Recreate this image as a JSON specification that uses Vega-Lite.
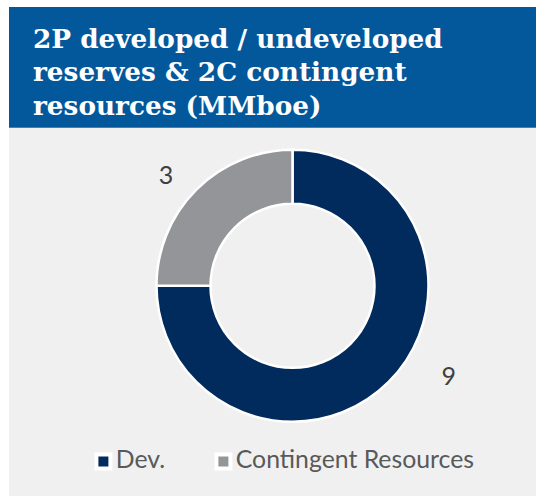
{
  "$schema": "https://vega.github.io/schema/vega-lite/v6.json",
  "background": "white",
  "padding": {"left": 9, "top": 7, "right": 0, "bottom": 0},
  "spacing": 0,
  "config": {"view": {"stroke": null}},
  "vconcat": [
    {
      "width": 527,
      "height": 120.7,
      "view": {"fill": "#03589C", "stroke": null},
      "title": {
        "text": ["2P developed / undeveloped", "reserves & 2C contingent", "resources (MMboe)"],
        "orient": "top",
        "anchor": "start",
        "frame": "group",
        "baseline": "top",
        "offset": -113,
        "dx": 24,
        "font": "DejaVu Serif",
        "fontSize": 26.3,
        "fontWeight": "bold",
        "color": "#ffffff",
        "lineHeight": 33.5
      },
      "data": {"values": [{"k": 1}]},
      "mark": {"type": "text", "text": ""},
      "encoding": {}
    },
    {
      "width": 527,
      "height": 368.3,
      "view": {"fill": "#F0F0F0", "stroke": null},
      "data": {"values": [
        {"category": "Dev.", "value": 9, "rank": 1},
        {"category": "Contingent Resources", "value": 3, "rank": 2}
      ]},
      "encoding": {
        "theta": {"field": "value", "type": "quantitative", "stack": true},
        "order": {"field": "rank", "type": "quantitative"},
        "color": {
          "field": "category",
          "type": "nominal",
          "scale": {"domain": ["Dev.", "Contingent Resources"], "range": ["#012B5D", "#939598"]},
          "legend": {
            "orient": "none",
            "direction": "horizontal",
            "legendX": 82,
            "legendY": 441.7,
            "title": null,
            "padding": 0,
            "symbolType": "square",
            "symbolSize": 196,
            "symbolStrokeWidth": 4,
            "symbolStrokeColor": "white",
            "symbolOpacity": 1,
            "labelFont": "Lato",
            "labelFontSize": 24.8,
            "labelColor": "#595959",
            "labelOffset": 0,
            "labelLimit": 400,
            "columnPadding": 42
          }
        }
      },
      "layer": [
        {"mark": {"type": "arc", "outerRadius": 136, "innerRadius": 82, "stroke": "white", "strokeWidth": 2.5, "xOffset": 20, "yOffset": -26.35}},
        {"mark": {"type": "text", "radius": 166, "xOffset": 20, "yOffset": -26.35, "dx": -9, "dy": 8, "font": "Lato", "fontSize": 25, "fill": "#404040"},
         "encoding": {"text": {"condition": {"test": "datum.category === 'Contingent Resources'", "field": "value", "type": "quantitative"}, "value": ""}, "color": {"value": "#404040"}}},
        {"mark": {"type": "text", "radius": 160, "xOffset": 20, "yOffset": -26.35, "dx": 43, "dy": -21.5, "font": "Lato", "fontSize": 25, "fill": "#404040"},
         "encoding": {"text": {"condition": {"test": "datum.category === 'Dev.'", "field": "value", "type": "quantitative"}, "value": ""}, "color": {"value": "#404040"}}}
      ]
    }
  ]
}
